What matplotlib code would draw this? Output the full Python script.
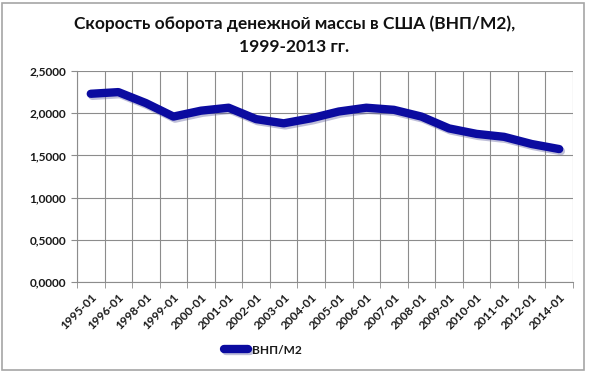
import matplotlib
matplotlib.use("Agg")
import matplotlib.pyplot as plt
from matplotlib.patches import Rectangle
import matplotlib.patheffects as pe
import numpy as np

categories = ["1995-01", "1996-01", "1998-01", "1999-01", "2000-01", "2001-01",
              "2002-01", "2003-01", "2004-01", "2005-01", "2006-01", "2007-01",
              "2008-01", "2009-01", "2010-01", "2011-01", "2012-01", "2014-01"]
values = [2.23, 2.25, 2.12, 1.96, 2.03, 2.065, 1.93, 1.88, 1.94, 2.02, 2.065,
          2.04, 1.96, 1.82, 1.755, 1.72, 1.635, 1.575]
yticks = [0.0, 0.5, 1.0, 1.5, 2.0, 2.5]
ytick_labels = ["0,0000", "0,5000", "1,0000", "1,5000", "2,0000", "2,5000"]
title = "Скорость оборота денежной массы в США (ВНП/М2),\n1999-2013 гг."
series_name = "ВНП/М2"

W, H = 589, 373
fig = plt.figure(figsize=(W / 100, H / 100), dpi=100)
fig.patch.set_facecolor("white")
fig.patches.append(Rectangle((2 / W, 3 / H), (584 - 2) / W, (370 - 3) / H,
                             transform=fig.transFigure, fill=False,
                             edgecolor="#A6A6A6", linewidth=1.2))

ax = fig.add_axes([77 / W, 1 - 282 / H, (573 - 77) / W, (282 - 71) / H])
n = len(categories)
x = np.arange(n)
ax.plot(x, values, color="#0B0BA0", linewidth=6.0, solid_capstyle="round",
        solid_joinstyle="round", label=series_name,
        path_effects=[pe.SimpleLineShadow(offset=(1.2, -1.5), shadow_color="#6060A0", alpha=0.4),
                      pe.Normal()])
ax.set_xlim(-0.5, n - 0.5)
ax.set_ylim(0, 2.5)
ax.set_yticks(yticks)
ax.set_yticklabels(ytick_labels)
ax.set_xticks(x)
ax.set_xticklabels(categories, rotation=45, ha="right", rotation_mode="anchor")
ax.set_xticks(np.arange(-0.5, n, 1.0), minor=True)
ax.tick_params(axis="x", which="major", length=0, pad=7)
ax.tick_params(axis="x", which="minor", length=4, color="#8C8C8C", direction="out")
ax.tick_params(axis="y", length=4, color="#8C8C8C", direction="out", pad=4)
for lab in ax.get_xticklabels() + ax.get_yticklabels():
    lab.set_fontfamily("Lato")
    lab.set_fontweight("bold")
    lab.set_fontsize(8.6)
    lab.set_color("#1A1A1A")
ax.grid(True, axis="y", which="major", color="#8C8C8C", linewidth=0.8)
ax.grid(True, axis="x", which="minor", color="#8C8C8C", linewidth=0.8)
ax.set_axisbelow(True)
for s in ["top", "right"]:
    ax.spines[s].set_visible(False)
ax.spines["left"].set_color("#8C8C8C")
ax.spines["bottom"].set_color("#8C8C8C")
ax.spines["left"].set_linewidth(0.8)
ax.spines["bottom"].set_linewidth(0.8)

fig.text(0.5, 1 - 35 / H, title, ha="center", va="center", fontfamily="Lato",
         fontweight="bold", fontsize=12.5, linespacing=1.55, color="#111111")

leg = fig.legend(loc="center", bbox_to_anchor=(263 / W, 1 - 350 / H), frameon=False,
                 prop={"family": "Lato", "weight": "bold", "size": 8.6},
                 handlelength=2.0, handletextpad=0.3)
for t in leg.get_texts():
    t.set_color("#1A1A1A")

fig.savefig("out.png", dpi=100, facecolor="white")
